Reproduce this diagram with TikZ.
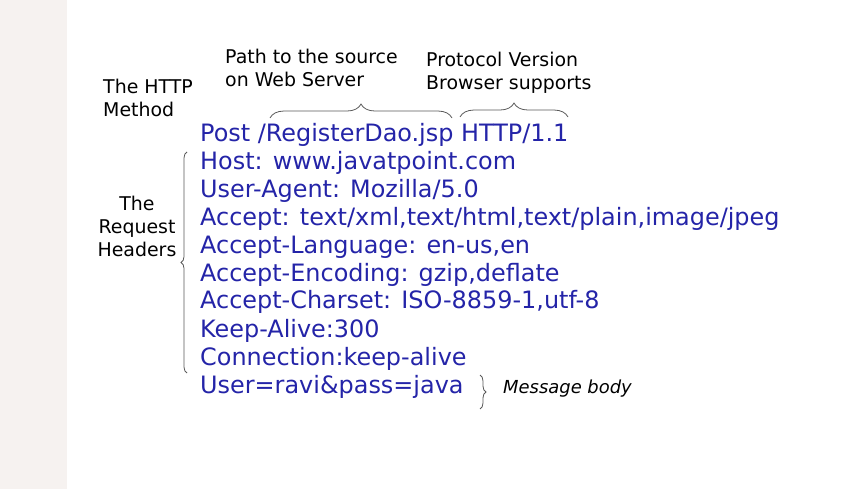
\documentclass[tikz,border=0pt]{standalone}
\usepackage{fontspec}
\setmainfont{DejaVu Sans}
\usepackage{tikz}
\usetikzlibrary{
	calc,
	positioning,
	decorations.pathreplacing
	}
\definecolor{bleu-req}{RGB}{36,36,168}
\definecolor{gris-bande}{RGB}{246,242,240}
\tikzstyle{ligne-req}=[anchor=base west,inner sep=0pt,text=bleu-req,font=\fontsize{24}{24}\selectfont]
\tikzstyle{note}=[inner sep=0pt,anchor=north west,align=left,font=\fontsize{19}{23}\selectfont]
\tikzstyle{accolade}=[draw=black!65,line width=0.8pt,decorate,decoration={brace,amplitude=14pt}]
\tikzstyle{accolade-v}=[draw=black!65,line width=0.8pt,decorate,decoration={brace,amplitude=6pt}]

\begin{document}
\begin{tikzpicture}[x=1bp,y=-1bp]
\useasboundingbox (0,0) rectangle (841,489);
\fill[gris-bande] (0,0) rectangle (67,489);

\node[ligne-req] (ligne0) at (200,142) {Post /RegisterDao.jsp HTTP/1.1};
\node[ligne-req] (ligne1) at (200,170) {Host: www.javatpoint.com};
\node[ligne-req] (ligne2) at (200,198) {User-Agent: Mozilla/5.0};
\node[ligne-req] (ligne3) at (200,226) {Accept: text/xml,text/html,text/plain,image/jpeg};
\node[ligne-req] (ligne4) at (200,254) {Accept-Language: en-us,en};
\node[ligne-req] (ligne5) at (200,282) {Accept-Encoding: gzip,deflate};
\node[ligne-req] (ligne6) at (200,309) {Accept-Charset: ISO-8859-1,utf-8};
\node[ligne-req] (ligne7) at (200,337) {Keep-Alive:300};
\node[ligne-req] (ligne8) at (200,365) {Connection:keep-alive};
\node[ligne-req] (ligne9) at (200,393) {User=ravi\&pass=java};

\node[note] (methode) at (103,79) {The HTTP\\Method};
\node[note] (chemin) at (225,49) {Path to the source\\on Web Server};
\node[note] (version) at (426,52) {Protocol Version\\Browser supports};
\node[note,align=center,anchor=north] (entetes) at (137,196) {The\\Request\\Headers};
\node[note,anchor=base west,font=\itshape\fontsize{18}{23}\selectfont] (corps) at (503,393) {Message body};

\coordinate (chemin-g) at (270,118);
\coordinate (chemin-d) at (452,118);
\coordinate (version-g) at (460,117);
\coordinate (version-d) at (568,117);
\coordinate (entetes-h) at (187,152);
\coordinate (entetes-b) at (187,373);
\coordinate (corps-h) at (480,375);
\coordinate (corps-b) at (480,409);

\draw[accolade] (chemin-g) -- (chemin-d);
\draw[accolade] (version-g) -- (version-d);
\draw[accolade-v] (entetes-b) -- (entetes-h);
\draw[accolade-v] (corps-h) -- (corps-b);
\end{tikzpicture}
\end{document}
